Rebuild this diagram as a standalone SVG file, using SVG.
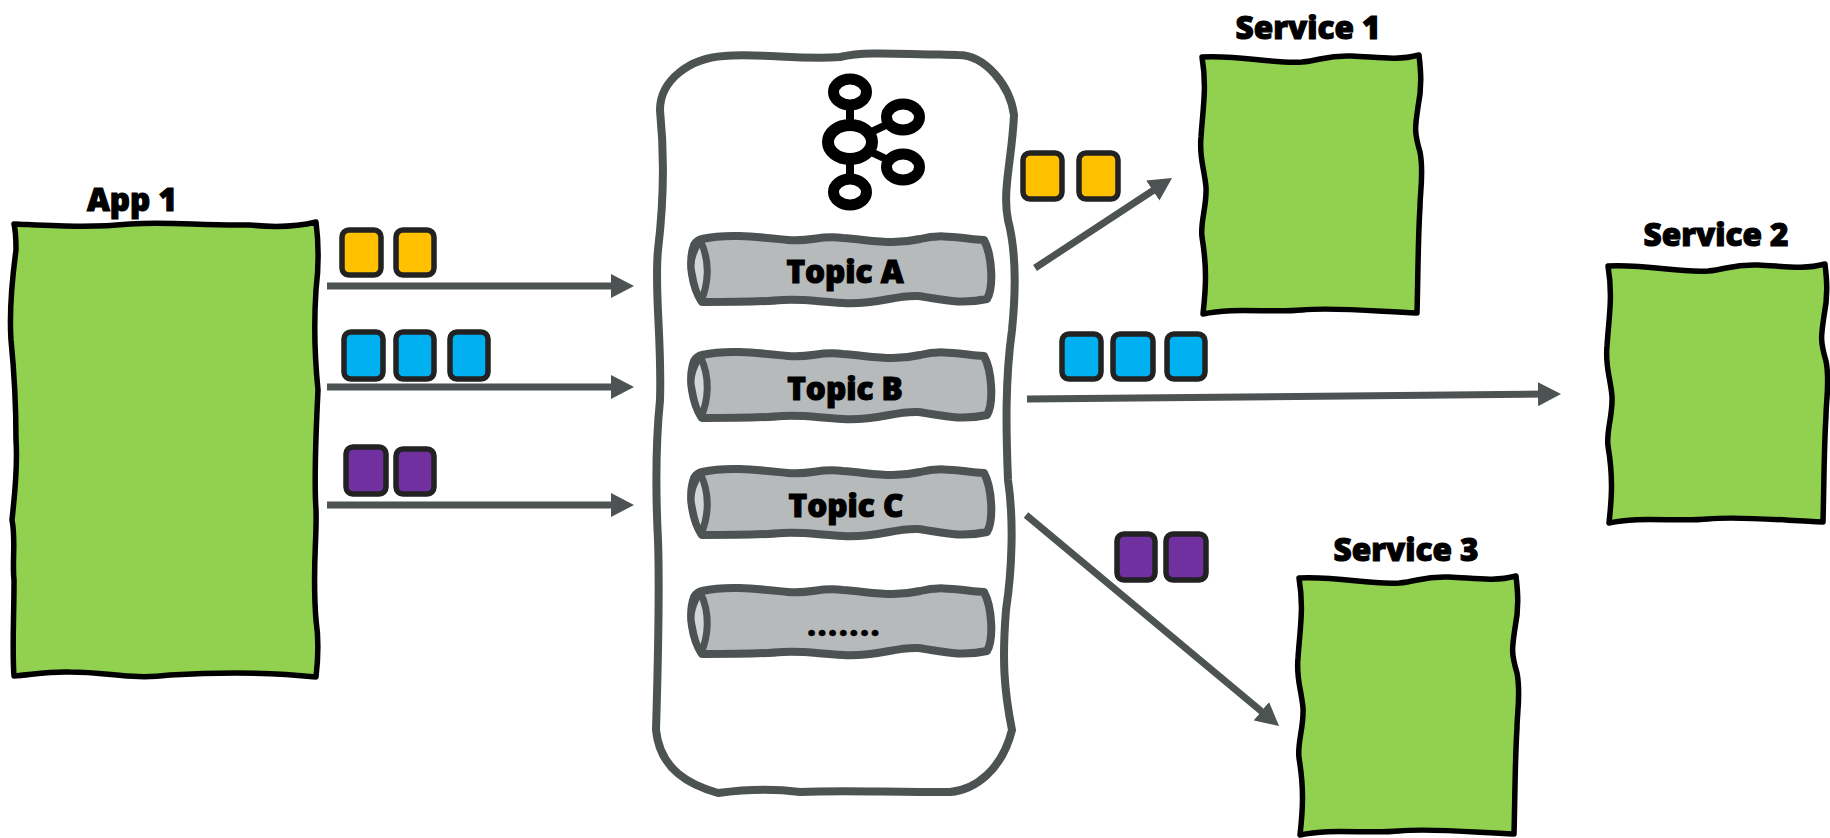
<svg xmlns="http://www.w3.org/2000/svg" xmlns:xlink="http://www.w3.org/1999/xlink" width="1830" height="838" viewBox="0 0 1830 838">
<style>
.t{font-family:"Open Sans","Noto Sans","Liberation Sans",sans-serif;font-weight:800;font-size:31.5px;fill:#000;stroke:#000;stroke-width:1.1;text-anchor:middle}
.g{fill:#92d050;stroke:#000;stroke-width:5.5;stroke-linejoin:round}
.c{fill:#b7baba;stroke:#4d5252;stroke-width:8;stroke-linejoin:round}
.e{fill:#d3d6d6;stroke:#4d5252;stroke-width:7;stroke-linejoin:round}
.y{fill:#ffc000;stroke:#222;stroke-width:5.5}
.b{fill:#00b0f0;stroke:#222;stroke-width:5.5}
.p{fill:#7030a0;stroke:#222;stroke-width:5.5}
.a{fill:none;stroke:#4d5252;stroke-width:7}
.k{fill:#fff;stroke:#000;stroke-width:11}
.kl{stroke:#000;stroke-width:8}
</style>
<defs>
<marker id="ah" markerUnits="userSpaceOnUse" markerWidth="24" markerHeight="24" refX="8" refY="12" orient="auto"><path d="M0 0L23 12L0 24Z" fill="#4d5252"/></marker>
<path id="svc" d="M0 0C40 -2 70 7 100 5C120 3 125 -2 150 -1C175 0 195 4 217 -2C219 15 220 30 216 50C213 70 212 75 218 95C222 115 218 135 218 150C216 180 216 220 215 256C170 254 130 250 100 253C70 256 30 250 1 257C4 230 5 210 0 180C-2 165 5 150 4 130C2 110 -3 100 -1 80C1 50 5 30 0 0Z"/>
<path id="top" d="M14 2C40 -4 70 0 100 3C125 5 130 -2 155 1C190 4 205 8 232 2C255 -4 275 2 296 3C304 18 306 50 299 62C272 68 252 62 230 59C205 58 190 68 155 66C130 65 120 62 95 63C70 65 40 65 14 65C4 50 0 25 6 8Q9 3 14 2Z"/>
<path id="cap" d="M12 3C5 14 1 25 4 36C6 48 9 58 13 64C20 48 23 25 12 3Z"/>
</defs>
<g id="app-1">
<path class="g" d="M14 224C60 226 90 228 130 224C170 221 200 226 250 225C280 228 300 226 316 222C319 245 319 265 316 290C314 320 314 350 318 390C316 430 314 480 316 510C317 540 312 570 316 620C319 640 318 660 316 677C270 672 220 672 170 675C130 680 110 672 70 672C50 671 30 675 14 676C12 650 14 620 14 580C12 560 16 540 12 520C14 500 18 470 16 440C16 410 14 370 11 340C9 310 12 280 16 250C16 240 16 232 14 224Z"/>
<text class="t" x="132" y="211">App 1</text>
</g>
<g id="kafka">
<path d="M724 56C760 53 800 60 840 57C860 52 880 53 958 55C985 55 1010 85 1014 115C1012 160 1002 190 1008 220C1016 250 1016 290 1012 330C1005 380 1006 430 1008 480C1014 520 1012 570 1006 610C1002 660 1004 690 1012 730C1002 770 975 790 950 792C880 792 840 790 800 792C770 788 740 790 718 793C690 785 660 770 656 730C658 660 660 600 658 540C655 480 656 440 660 400C662 340 654 290 658 250C664 200 664 150 660 110C660 80 690 58 724 56Z" fill="#fff" stroke="#4d5252" stroke-width="8" stroke-linejoin="round"/>
<g id="kafka-logo">
<path class="kl" d="M850 92V192M850 142L903 117M850 142L903 167"/>
<ellipse class="k" cx="850" cy="92" rx="16.5" ry="13"/>
<ellipse class="k" cx="850" cy="192" rx="16.5" ry="13"/>
<ellipse class="k" cx="903" cy="117" rx="16.5" ry="13"/>
<ellipse class="k" cx="903" cy="167" rx="16.5" ry="13"/>
<ellipse cx="850" cy="142" rx="22" ry="17" fill="#fff" stroke="#000" stroke-width="12"/>
</g>
</g>
<g id="topic-a"><use xlink:href="#top" href="#top" class="c" x="688" y="237"/><use xlink:href="#cap" href="#cap" class="e" x="688" y="237"/><text class="t" x="845" y="283">Topic A</text></g>
<g id="topic-b"><use xlink:href="#top" href="#top" class="c" x="688" y="353"/><use xlink:href="#cap" href="#cap" class="e" x="688" y="353"/><text class="t" x="845" y="400">Topic B</text></g>
<g id="topic-c"><use xlink:href="#top" href="#top" class="c" x="688" y="470"/><use xlink:href="#cap" href="#cap" class="e" x="688" y="470"/><text class="t" x="846" y="517">Topic C</text></g>
<g id="topic-more"><use xlink:href="#top" href="#top" class="c" x="688" y="589"/><use xlink:href="#cap" href="#cap" class="e" x="688" y="589"/><text class="t" x="844" y="636" style="letter-spacing:1.5px;stroke-width:.4">.......</text></g>
<g id="service-1"><use xlink:href="#svc" href="#svc" class="g" x="1202" y="57"/><text class="t" x="1308" y="39">Service 1</text></g>
<g id="service-2"><use xlink:href="#svc" href="#svc" class="g" x="1608" y="266"/><text class="t" x="1716" y="246">Service 2</text></g>
<g id="service-3"><use xlink:href="#svc" href="#svc" class="g" x="1299" y="578"/><text class="t" x="1406" y="561">Service 3</text></g>
<g id="connectors">
<path class="a" marker-end="url(#ah)" d="M327 286H619"/>
<path class="a" marker-end="url(#ah)" d="M327 387H619"/>
<path class="a" marker-end="url(#ah)" d="M327 505H619"/>
<path class="a" marker-end="url(#ah)" d="M1035 268L1159.5 186.2"/>
<path class="a" marker-end="url(#ah)" d="M1027 399L1546 394.1"/>
<path class="a" marker-end="url(#ah)" d="M1026 515L1267.5 716.4"/>
</g>
<g id="messages">
<rect class="y" x="342" y="230" width="39" height="45" rx="7"/><rect class="y" x="396" y="230" width="38" height="45" rx="7"/>
<rect class="b" x="344" y="332" width="39" height="47" rx="7"/><rect class="b" x="396" y="332" width="38" height="47" rx="7"/><rect class="b" x="450" y="332" width="38" height="47" rx="7"/>
<rect class="p" x="346" y="447" width="40" height="47" rx="7"/><rect class="p" x="396" y="449" width="38" height="45" rx="7"/>
<rect class="y" x="1023" y="153" width="39" height="46" rx="7"/><rect class="y" x="1079" y="153" width="39" height="46" rx="7"/>
<rect class="b" x="1062" y="334" width="39" height="45" rx="7"/><rect class="b" x="1113" y="334" width="40" height="45" rx="7"/><rect class="b" x="1167" y="334" width="38" height="45" rx="7"/>
<rect class="p" x="1117" y="534" width="38" height="46" rx="7"/><rect class="p" x="1166" y="534" width="40" height="46" rx="7"/>
</g>
</svg>
